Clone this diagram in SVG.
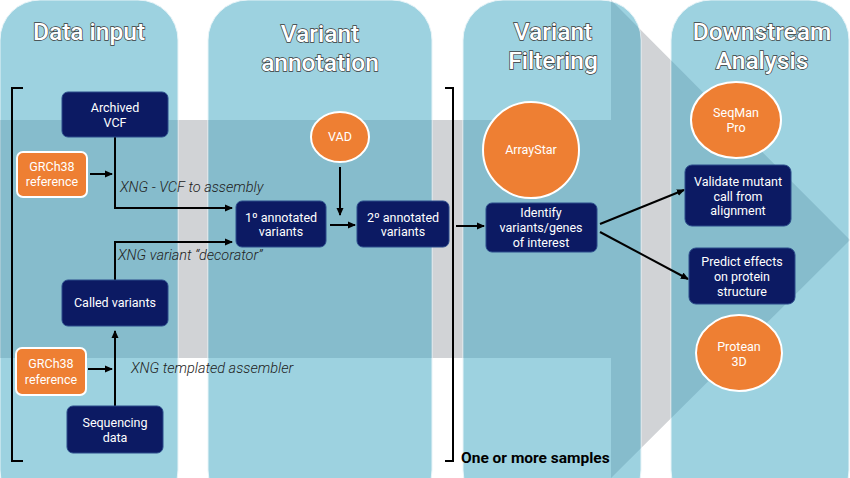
<svg xmlns="http://www.w3.org/2000/svg" width="850" height="478" viewBox="0 0 850 478">
<style>
.title{font-family:Roboto,"Liberation Sans",sans-serif;font-size:24.5px;fill:#fff;stroke:#3a3a3a;stroke-width:1.4;paint-order:stroke;text-anchor:middle;font-weight:500}
.nav{fill:#0c1a63;stroke:#2a4a8a;stroke-width:1}
.org{fill:#ee7f33;stroke:#fff;stroke-width:2}
.t{font-family:Roboto,"Liberation Sans",sans-serif;font-size:12.5px;fill:#fff;text-anchor:middle}
.lab{font-family:Roboto,"Liberation Sans",sans-serif;font-size:14.5px;font-style:italic;font-weight:300;fill:#222}
.c{stroke:#000;stroke-width:2;fill:none}
</style>
<defs>
<marker id="a" markerWidth="8" markerHeight="8" refX="7" refY="4" orient="auto" markerUnits="userSpaceOnUse"><path d="M0,0.5 L8,4 L0,7.5z" fill="#000"/></marker>
<clipPath id="pc">
<rect x="0" y="0" width="178" height="510" rx="40"/>
<rect x="208" y="0" width="224" height="510" rx="40"/>
<rect x="463" y="0" width="178" height="510" rx="40"/>
<rect x="671" y="0" width="178" height="510" rx="40"/>
</clipPath>
</defs>
<rect width="850" height="478" fill="#fff"/>
<path id="bigarrow" d="M0,120 H611 V0 L850,240 L611,478 V358 H0z" fill="#d1d3d6"/>
<g fill="#9dd2e0" stroke="#e8f4f8" stroke-width="1">
<rect x="0" y="0" width="178" height="510" rx="40"/>
<rect x="208" y="0" width="224" height="510" rx="40"/>
<rect x="463" y="0" width="178" height="510" rx="40"/>
<rect x="671" y="0" width="178" height="510" rx="40"/>
</g>
<path d="M0,120 H611 V0 L850,240 L611,478 V358 H0z" fill="#2f647c" opacity="0.2" clip-path="url(#pc)"/>
<text class="title" x="89" y="40">Data input</text>
<text class="title" x="320" y="42">Variant</text>
<text class="title" x="320" y="71">annotation</text>
<text class="title" x="553" y="40">Variant</text>
<text class="title" x="553" y="69">Filtering</text>
<text class="title" x="762" y="40">Downstream</text>
<text class="title" x="762" y="69">Analysis</text>
<g id="brackets" class="c">
<path d="M23,88 H12 V461 H23"/>
<path d="M445,88 H453 V461 H445"/>
</g>
<text x="461" y="463" font-family="Roboto,'Liberation Sans',sans-serif" font-size="15.5" font-weight="bold" fill="#000">One or more samples</text>
<g id="connectors" class="c">
<path d="M115,137 V208 H232" marker-end="url(#a)"/>
<path d="M90,174 H112" marker-end="url(#a)"/>
<path d="M115,280 V242 H232" marker-end="url(#a)"/>
<path d="M115,406 V331" marker-end="url(#a)"/>
<path d="M88,369 H112" marker-end="url(#a)"/>
<path d="M340,167 V215" marker-end="url(#a)"/>
<path d="M330,225 H355" marker-end="url(#a)"/>
<path d="M456,226 H484" marker-end="url(#a)"/>
<path d="M600,224 L684,190" marker-end="url(#a)"/>
<path d="M600,232 L688,279" marker-end="url(#a)"/>
</g>
<text class="lab" x="120" y="192">XNG - VCF to assembly</text>
<text class="lab" x="118" y="260">XNG variant “decorator”</text>
<text class="lab" x="131" y="373">XNG templated assembler</text>
<g id="archived"><rect class="nav" x="62" y="92" width="106" height="45" rx="6"/><text class="t" x="115" y="112">Archived</text><text class="t" x="115" y="127">VCF</text></g>
<g id="grch38a"><rect class="org" x="17" y="152" width="70" height="45" rx="6"/><text class="t" x="52" y="171">GRCh38</text><text class="t" x="52" y="186">reference</text></g>
<g id="called"><rect class="nav" x="62" y="280" width="106" height="46" rx="6"/><text class="t" x="115" y="307">Called variants</text></g>
<g id="grch38b"><rect class="org" x="16" y="348" width="70" height="47" rx="6"/><text class="t" x="51" y="368">GRCh38</text><text class="t" x="51" y="384">reference</text></g>
<g id="seq"><rect class="nav" x="67" y="406" width="96" height="47" rx="6"/><text class="t" x="115" y="427">Sequencing</text><text class="t" x="115" y="442">data</text></g>
<g id="ann1"><rect class="nav" x="236" y="201" width="90" height="46" rx="6"/><text class="t" x="281" y="222">1º annotated</text><text class="t" x="281" y="236">variants</text></g>
<g id="ann2"><rect class="nav" x="357" y="201" width="92" height="46" rx="6"/><text class="t" x="403" y="222">2º annotated</text><text class="t" x="403" y="236">variants</text></g>
<g id="vad"><ellipse class="org" cx="340" cy="137" rx="29" ry="25"/><text class="t" x="340" y="141">VAD</text></g>
<g id="arraystar"><circle class="org" cx="531" cy="150" r="48"/><text class="t" x="531" y="154">ArrayStar</text></g>
<g id="identify"><rect class="nav" x="486" y="203" width="111" height="49" rx="6"/><text class="t" x="541" y="217">Identify</text><text class="t" x="541" y="232">variants/genes</text><text class="t" x="541" y="247">of interest</text></g>
<g id="seqman"><ellipse class="org" cx="736" cy="120" rx="45" ry="38"/><text class="t" x="736" y="117">SeqMan</text><text class="t" x="736" y="132">Pro</text></g>
<g id="validate"><rect class="nav" x="685" y="165" width="106" height="61" rx="7"/><text class="t" x="738" y="186">Validate mutant</text><text class="t" x="738" y="201">call from</text><text class="t" x="738" y="215">alignment</text></g>
<g id="predict"><rect class="nav" x="689" y="248" width="106" height="56" rx="7"/><text class="t" x="742" y="266">Predict effects</text><text class="t" x="742" y="281">on protein</text><text class="t" x="742" y="296">structure</text></g>
<g id="protean"><ellipse class="org" cx="739" cy="353" rx="43" ry="38"/><text class="t" x="739" y="351">Protean</text><text class="t" x="739" y="366">3D</text></g>
</svg>
